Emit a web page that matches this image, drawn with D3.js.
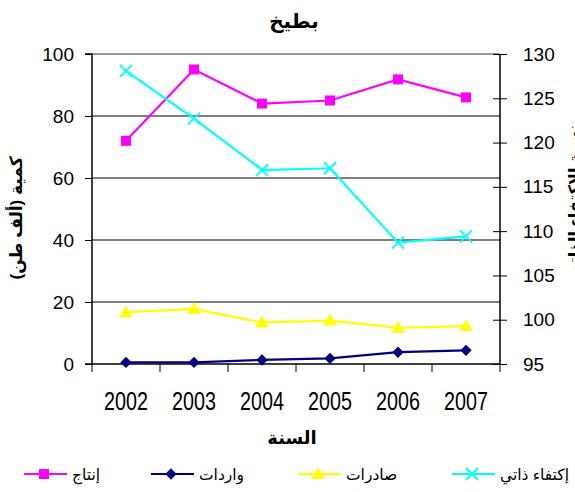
<!DOCTYPE html>
<html>
<head>
<meta charset="utf-8">
<script src="https://cdn.jsdelivr.net/npm/d3@7"></script>
<style>
  body { margin: 0; background: #fff; }
  svg { display: block; font-family: "Liberation Sans", Arial, "DejaVu Sans", sans-serif; }
</style>
</head>
<body>
<div class="container"></div>
<script>
const w = 575;
const h = 492;

const years = ["2002", "2003", "2004", "2005", "2006", "2007"];
const production = [72, 95, 84, 85, 91.8, 86];     // إنتاج
const imports = [0.5, 0.5, 1.3, 1.8, 3.8, 4.4];     // واردات
const exports = [16.7, 17.8, 13.4, 14, 11.7, 12.2]; // صادرات
const selfSuff = [128.1, 122.7, 116.9, 117.1, 108.7, 109.4]; // إكتفاء ذاتي (right axis)

const leftTicks = [0, 20, 40, 60, 80, 100];
const rightTicks = [95, 100, 105, 110, 115, 120, 125, 130];

const margin = { top: 54, bottom: 128, left: 92, right: 75 };

const svg = d3.select('.container').append('svg')
  .attr('width', w)
  .attr('height', h);

const x = d3.scaleBand()
  .domain(years)
  .range([margin.left, w - margin.right]);

const yL = d3.scaleLinear()
  .domain([0, 100])
  .range([h - margin.bottom, margin.top]);

const yR = d3.scaleLinear()
  .domain([95, 130])
  .range([h - margin.bottom, margin.top]);

// gridlines
svg.append('g')
  .selectAll('line')
  .data(leftTicks.filter(d => d > 0 && d < 100))
  .enter().append('line')
    .attr('x1', margin.left).attr('x2', w - margin.right)
    .attr('y1', d => yL(d)).attr('y2', d => yL(d))
    .attr('stroke', '#000').attr('stroke-width', 1.2);

// gray top border
svg.append('line')
  .attr('x1', margin.left).attr('x2', w - margin.right)
  .attr('y1', yL(100)).attr('y2', yL(100))
  .attr('stroke', '#999').attr('stroke-width', 2);

// axes
const leftAxis = svg.append('g')
  .attr('transform', `translate(${margin.left},0)`)
  .call(d3.axisLeft(yL).tickValues(leftTicks).tickSize(7).tickPadding(11));

const rightAxis = svg.append('g')
  .attr('transform', `translate(${w - margin.right},0)`)
  .call(d3.axisRight(yR).tickValues(rightTicks).tickSize(7).tickPadding(16));
rightAxis.selectAll('.tick line').attr('x1', -7);

const bottomAxis = svg.append('g')
  .attr('transform', `translate(0,${yL(0)})`)
  .call(d3.axisBottom(x).tickSize(0).tickPadding(28));

// band-boundary ticks on x axis
bottomAxis.append('g')
  .selectAll('line')
  .data(years.concat(['end']))
  .enter().append('line')
    .attr('x1', (d, i) => i < years.length ? x(d) : x.range()[1])
    .attr('x2', (d, i) => i < years.length ? x(d) : x.range()[1])
    .attr('y1', 0).attr('y2', 8)
    .attr('stroke', '#000');

[leftAxis, rightAxis, bottomAxis].forEach(a => {
  a.select('.domain').attr('stroke', '#000').attr('stroke-width', 1.5);
  a.selectAll('.tick line').attr('stroke', '#000');
  a.selectAll('text')
    .attr('fill', '#000')
    .style('font-family', '"Liberation Sans", Arial, sans-serif')
    .style('font-size', '19px');
});
leftAxis.select('.domain').attr('d', `M-7,${yL(100)}H0V${yL(0)}H-7`);
rightAxis.select('.domain').attr('d', `M0,${yR(130)}V${yR(95)}`);
bottomAxis.select('.domain').attr('d', `M${margin.left},0H${w - margin.right}`);

bottomAxis.selectAll('.tick text')
  .style('font-size', '25px')
  .attr('transform', 'scale(0.79,1)');

// series
const series = [
  { name: 'إنتاج', values: production, y: yL, color: '#ff00ff', marker: 'square' },
  { name: 'واردات', values: imports, y: yL, color: '#000080', marker: 'diamond' },
  { name: 'صادرات', values: exports, y: yL, color: '#ffff00', marker: 'triangle' },
  { name: 'إكتفاء ذاتي', values: selfSuff, y: yR, color: '#00ffff', marker: 'x' }
];

const cx = d => x(d) + x.bandwidth() / 2;

function drawMarker(g, type, color) {
  if (type === 'square') {
    g.append('path').attr('d', d3.symbol(d3.symbolSquare, 100)()).attr('fill', color);
  } else if (type === 'diamond') {
    g.append('path').attr('d', d3.symbol(d3.symbolSquare, 64)())
      .attr('transform', 'rotate(45)').attr('fill', color);
  } else if (type === 'triangle') {
    g.append('path').attr('d', d3.symbol(d3.symbolTriangle, 80)())
      .attr('transform', 'translate(0,1)').attr('fill', color);
  } else {
    g.append('path').attr('d', 'M-6,-6L6,6M-6,6L6,-6')
      .attr('stroke', color).attr('stroke-width', 1.8).attr('fill', 'none');
  }
}

series.forEach(s => {
  const line = d3.line()
    .x((d, i) => cx(years[i]))
    .y(d => s.y(d));
  svg.append('path')
    .datum(s.values)
    .attr('d', line)
    .attr('fill', 'none')
    .attr('stroke', s.color)
    .attr('stroke-width', 2.2);
  s.values.forEach((v, i) => {
    const g = svg.append('g').attr('transform', `translate(${cx(years[i])},${s.y(v)})`);
    drawMarker(g, s.marker, s.color);
  });
});

// titles
svg.append('text')
  .attr('x', 294).attr('y', 28)
  .attr('text-anchor', 'middle')
  .attr('direction', 'rtl')
  .style('font-size', '20px').style('font-weight', 'bold')
  .text('بطيخ');

svg.append('text')
  .attr('x', 292).attr('y', 444)
  .attr('text-anchor', 'middle')
  .attr('direction', 'rtl')
  .style('font-size', '18px').style('font-weight', 'bold')
  .text('السنة');

svg.append('text')
  .attr('transform', 'translate(22,218) rotate(-90)')
  .attr('text-anchor', 'middle')
  .attr('direction', 'rtl')
  .style('font-size', '17px').style('font-weight', 'bold')
  .text('كمية (ألف طن)');

svg.append('text')
  .attr('transform', 'translate(580,202) rotate(-90)')
  .attr('text-anchor', 'middle')
  .attr('direction', 'rtl')
  .style('font-size', '16px').style('font-weight', 'bold')
  .text('نسبة الإكتفاء الذاتي');

// legend
const legendPos = [24, 151, 298, 452];
const legendY = 474;
const legend = svg.append('g');
series.forEach((s, i) => {
  const g = legend.append('g').attr('transform', `translate(${legendPos[i]},${legendY})`);
  g.append('line').attr('x1', 0).attr('x2', 43).attr('y1', 0).attr('y2', 0)
    .attr('stroke', s.color).attr('stroke-width', 2.2);
  const m = g.append('g').attr('transform', 'translate(20,0)');
  drawMarker(m, s.marker, s.color);
  g.append('text')
    .attr('x', 48).attr('y', 6)
    .attr('text-anchor', 'start')
    .style('font-size', '15.5px')
    .text(s.name);
});
</script>
</body>
</html>
